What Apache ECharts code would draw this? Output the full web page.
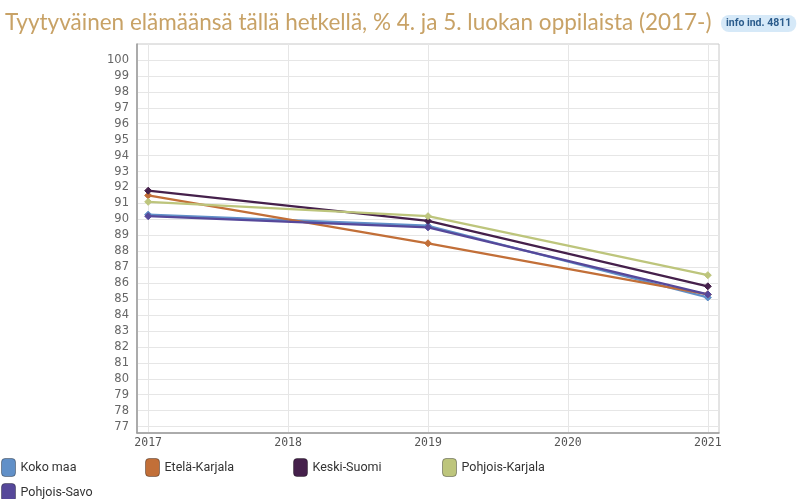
<!DOCTYPE html>
<html>
<head>
<meta charset="utf-8">
<script src="https://cdn.jsdelivr.net/npm/echarts@6/dist/echarts.min.js"></script>
<style>
  html, body { margin: 0; padding: 0; background: #fff; }
  #chart { width: 801px; height: 499px; }
</style>
</head>
<body>
<div id="chart"></div>
<script>
// years on x axis, values only for survey years
var years = [2017, 2018, 2019, 2020, 2021];
var surveyYears = [2017, 2019, 2021];
var yTicks = [77, 78, 79, 80, 81, 82, 83, 84, 85, 86, 87, 88, 89, 90, 91, 92, 93, 94, 95, 96, 97, 98, 99, 100];

var names = ["Koko maa", "Etelä-Karjala", "Keski-Suomi", "Pohjois-Karjala", "Pohjois-Savo"];
var kokoMaa = [90.3, 89.6, 85.1];
var etelaKarjala = [91.5, 88.5, 85.3];
var keskiSuomi = [91.8, 89.9, 85.8];
var pohjoisKarjala = [91.1, 90.2, 86.5];
var pohjoisSavo = [90.2, 89.5, 85.3];
var colors = ["#6190c8", "#c26f38", "#45204b", "#bdc57c", "#56489a"];

var allValues = [kokoMaa, etelaKarjala, keskiSuomi, pohjoisKarjala, pohjoisSavo];

var chart = echarts.init(document.getElementById("chart"));

var series = names.map(function (name, i) {
  return {
    name: name,
    type: "line",
    data: surveyYears.map(function (y, j) { return [y, allValues[i][j]]; }),
    symbol: "diamond",
    symbolSize: 7,
    showSymbol: true,
    lineStyle: { width: 2.3, color: colors[i] },
    itemStyle: { color: colors[i], borderColor: colors[i] },
    animation: false
  };
});

// one legend per item so spacing matches the original layout
var legendLefts = [-4, 140, 288, 437, -4];
var legendTops = [453, 453, 453, 453, 478];
var legends = names.map(function (name, i) {
  return {
    data: [name],
    left: legendLefts[i],
    top: legendTops[i],
    icon: "roundRect",
    itemWidth: 14,
    itemHeight: 18,
    itemGap: 8,
    itemStyle: { borderColor: "rgba(0,0,0,0.35)", borderWidth: 1 },
    textStyle: { fontFamily: "Liberation Sans Narrow, Roboto", fontSize: 12.5, color: "#333" },
    selectedMode: false
  };
});

var option = {
  backgroundColor: "#fff",
  title: [
    {
      text: "Tyytyväinen elämäänsä tällä hetkellä, % 4. ja 5. luokan oppilaista (2017-)",
      left: 0,
      top: 6,
      textStyle: { fontFamily: "Lato", fontWeight: "normal", fontSize: 22.5, color: "#c8a266" }
    },
    {
      text: "info ind. 4811",
      left: 721,
      top: 15,
      padding: [3, 5],
      backgroundColor: "#d6e9f8",
      borderRadius: 8,
      textStyle: { fontFamily: "Liberation Sans Narrow, Roboto", fontWeight: "bold", fontSize: 10.5, color: "#2b5c8c" }
    }
  ],
  legend: legends,
  grid: {
    left: 137,
    right: 82,
    top: 44,
    bottom: 66,
    show: true,
    borderColor: "#c8c8c8",
    borderWidth: 1
  },
  xAxis: {
    type: "value",
    min: 2016.92,
    max: 2021.08,
    axisLine: { show: true, lineStyle: { color: "#999", width: 1.5 } },
    axisTick: { show: false, customValues: years },
    axisLabel: {
      customValues: years,
      formatter: function (v) { return String(v); },
      fontFamily: "DejaVu Sans Mono",
      fontSize: 11.5,
      color: "#555",
      margin: 4
    },
    splitLine: { show: true, lineStyle: { color: "#e6e6e6" } }
  },
  yAxis: {
    type: "value",
    min: 76.6,
    max: 101,
    axisLine: { show: true, lineStyle: { color: "#999", width: 1.5 } },
    axisTick: { show: false, customValues: yTicks },
    axisLabel: {
      customValues: yTicks,
      fontFamily: "DejaVu Sans",
      fontSize: 11.5,
      color: "#666",
      margin: 8
    },
    splitLine: { show: true, lineStyle: { color: "#e6e6e6" } }
  },
  series: series
};

chart.setOption(option);
</script>
</body>
</html>
